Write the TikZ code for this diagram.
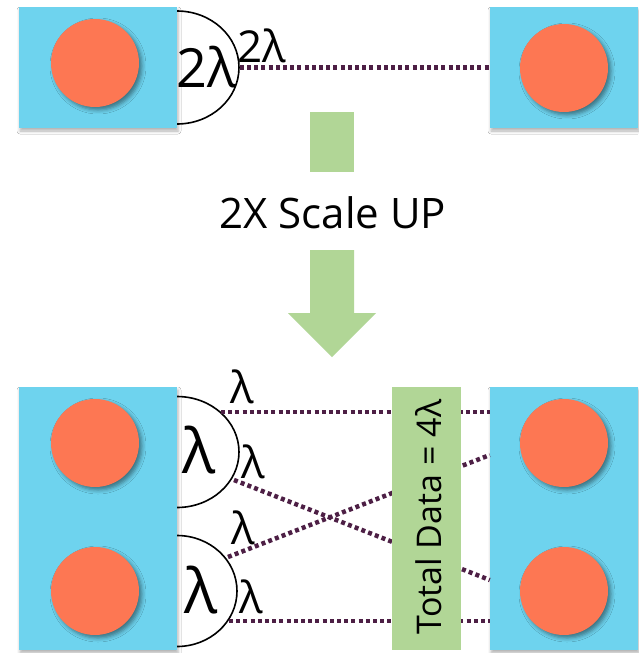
\documentclass[tikz,border=0pt]{standalone}
\usepackage{fontspec}
\setmainfont{Open Sans}
\usetikzlibrary{shapes.geometric,shadows.blur,calc}
\definecolor{boxblue}{HTML}{6ED3EE}
\definecolor{dotorange}{HTML}{FD7753}
\definecolor{arrowgreen}{HTML}{B1D696}
\definecolor{linkcol}{HTML}{4D1F45}
\begin{document}
\begin{tikzpicture}[x=1pt,y=-1pt,
  box/.style={rectangle, fill=boxblue, inner sep=0pt,
    blur shadow={shadow xshift=1pt, shadow yshift=-3pt, shadow opacity=30, shadow blur radius=3pt}},
  circ/.style={circle, fill=dotorange, minimum size=88pt, inner sep=0pt,
    blur shadow={shadow xshift=3pt, shadow yshift=-3pt, shadow opacity=45, shadow blur radius=4pt}},
  port/.style={ellipse, draw=black, line width=1.6pt, fill=white, inner sep=0pt},
  link/.style={draw=linkcol, line width=4.5pt, dash pattern=on 4pt off 3.2pt},
  lab/.style={inner sep=0pt, font=\fontsize{44}{44}\selectfont},
  biglab/.style={inner sep=0pt, font=\fontsize{62}{62}\selectfont},
  bar/.style={fill=arrowgreen, inner sep=0pt}]
\useasboundingbox[fill=white] (0,0) rectangle (638,653);

% ---------- top ----------
\node[port, minimum width=124pt, minimum height=113pt] (p0) at (177,67.5) {};
\node[box, minimum width=158pt, minimum height=121pt] (tl) at (98,67.5) {};
\node[box, minimum width=148pt, minimum height=121pt] (tr) at (564,67.5) {};
\node[circ] (tlc) at (95,63) {};
\node[circ] (trc) at (564,68) {};
\draw[link] (p0.east) -- (tr.west);
\node[inner sep=0pt, font=\fontsize{54}{54}\selectfont] (t2a) at (206,67) {2λ};
\node[lab] (t2b) at (262,46) {2λ};

% ---------- middle ----------
\node[bar, minimum width=44pt, minimum height=60pt] (g1) at (332,142) {};
\node[inner sep=0pt, font=\fontsize{42}{42}\selectfont] (scale) at (333,213) {2X Scale UP};
\fill[arrowgreen] (310,250) -- (354,250) -- (354,313) -- (376,313) -- (332,357) -- (288,313) -- (310,313) -- cycle;

% ---------- bottom ----------
\node[port, minimum width=124pt, minimum height=111pt] (pa) at (177,452) {};
\node[port, minimum width=120pt, minimum height=111pt] (pb) at (177,591) {};
\node[box, minimum width=158pt, minimum height=263pt] (bl) at (98,518.5) {};
\node[box, minimum width=148pt, minimum height=263pt] (br) at (564,518.5) {};

\coordinate (a1) at (221,412);
\coordinate (a2) at (234,480);
\coordinate (b1) at (228,557);
\coordinate (b2) at (229,621);
\coordinate (r1) at (br.west |- a1);
\coordinate (r2) at ($(br.west)+(0,61.5)$);
\coordinate (r3) at ($(br.west)+(0,-63.5)$);
\coordinate (r4) at (br.west |- b2);
\draw[link] (a1) -- (r1);
\draw[link] (a2) -- (r2);
\draw[link] (b1) -- (r3);
\draw[link] (b2) -- (r4);

\node[circ] (blc1) at (95,443) {};
\node[circ] (blc2) at (95,591) {};
\node[circ] (brc1) at (564,443) {};
\node[circ] (brc2) at (564,591) {};

\node[bar, minimum width=69pt, minimum height=263pt] (total) at (426.5,518.5) {};
\node[inner sep=0pt, rotate=90, font=\fontsize{34}{34}\selectfont] (ttext) at (429,517) {Total Data = 4λ};

\node[biglab] (la) at (199,450) {λ};
\node[biglab] (lb) at (201,590) {λ};
\node[lab] (l1) at (242,387) {λ};
\node[lab] (l2) at (253,462) {λ};
\node[lab] (l3) at (243,528) {λ};
\node[lab] (l4) at (251,597) {λ};
\end{tikzpicture}
\end{document}
